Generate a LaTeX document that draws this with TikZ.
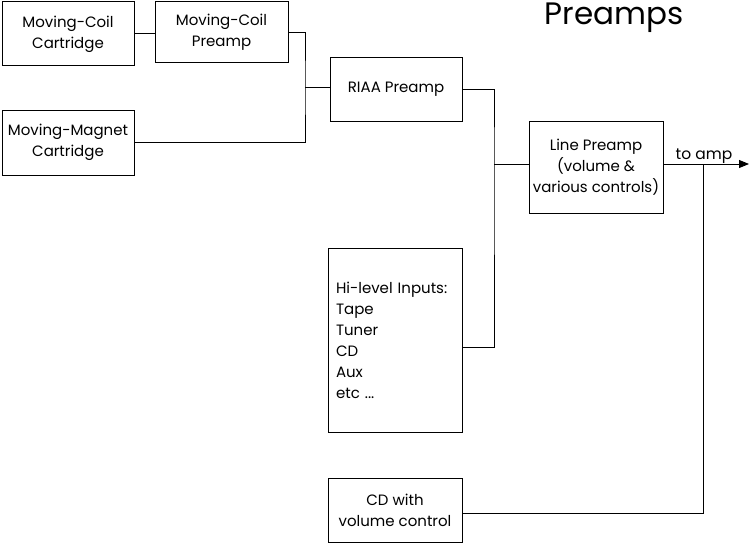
\documentclass[tikz,border=0pt]{standalone}
\usepackage{fontspec}
\setmainfont{Poppins}
\usetikzlibrary{positioning,arrows.meta,calc}
\tikzset{
  unitbox/.style={draw, line width=1pt, inner sep=2pt, align=center, font=\fontsize{15}{21}\selectfont},
  wire/.style={line width=1pt},
  outarrow/.style={-{Triangle[length=10pt, width=8pt]}, line width=1pt},
  plainlabel/.style={font=\fontsize{15.5}{21}\selectfont, inner sep=0pt}
}

\begin{document}
\begin{tikzpicture}[x=1pt, y=-1pt]
  \useasboundingbox (0,0) rectangle (750,543);
  % cartridges and head amps
  \node[unitbox, minimum width=132pt, minimum height=64pt] (mccart) at (68,34) {Moving-Coil\\Cartridge};
  \node[unitbox, minimum width=133pt, minimum height=61pt] (mcpre) at (221.5,32.5) {Moving-Coil\\Preamp};
  \node[unitbox, minimum width=132pt, minimum height=65pt] (mmcart) at (68,142.5) {Moving-Magnet\\Cartridge};
  % phono and line stages
  \node[unitbox, minimum width=132pt, minimum height=63pt] (riaa) at (396,89.5) {RIAA Preamp};
  \node[unitbox, minimum width=134pt, minimum height=92pt] (linepre) at (596,167) {Line Preamp\\(volume \&\\various controls)};
  \node[unitbox, minimum width=134pt, minimum height=184pt, text width=118pt, align=left] (hilevel) at (395,340) {Hi-level Inputs:\\Tape\\Tuner\\CD\\Aux\\etc ...};
  \node[unitbox, minimum width=134pt, minimum height=64pt] (cdvol) at (395,510) {CD with\\volume control};
  \node[font=\fontsize{31}{36}\selectfont, anchor=base, inner sep=0pt] (title) at (614,25) {Preamps};
  \node[plainlabel, anchor=base] (toamp) at (704,159) {to amp};

  \coordinate (joinA) at (305,88);
  \coordinate (joinB) at (494,164);
  \coordinate (joinC) at (703,164);
  \coordinate (ampout) at (749,164);

  \draw[wire] (mccart.east) -- (mccart.east -| mcpre.west);
  \draw[wire] (mcpre.east) -| (joinA) |- (mmcart.east);
  \draw[wire] (joinA) -- (joinA -| riaa.west);
  \draw[wire] (riaa.east) -| (joinB) |- ([yshift=-7pt]hilevel.east);
  \draw[wire] (joinB) -- (joinB -| linepre.west);
  \draw[outarrow] (joinB -| linepre.east) -- (ampout);
  \draw[wire] ([yshift=-3pt]cdvol.east) -| (joinC);
\end{tikzpicture}
\end{document}
